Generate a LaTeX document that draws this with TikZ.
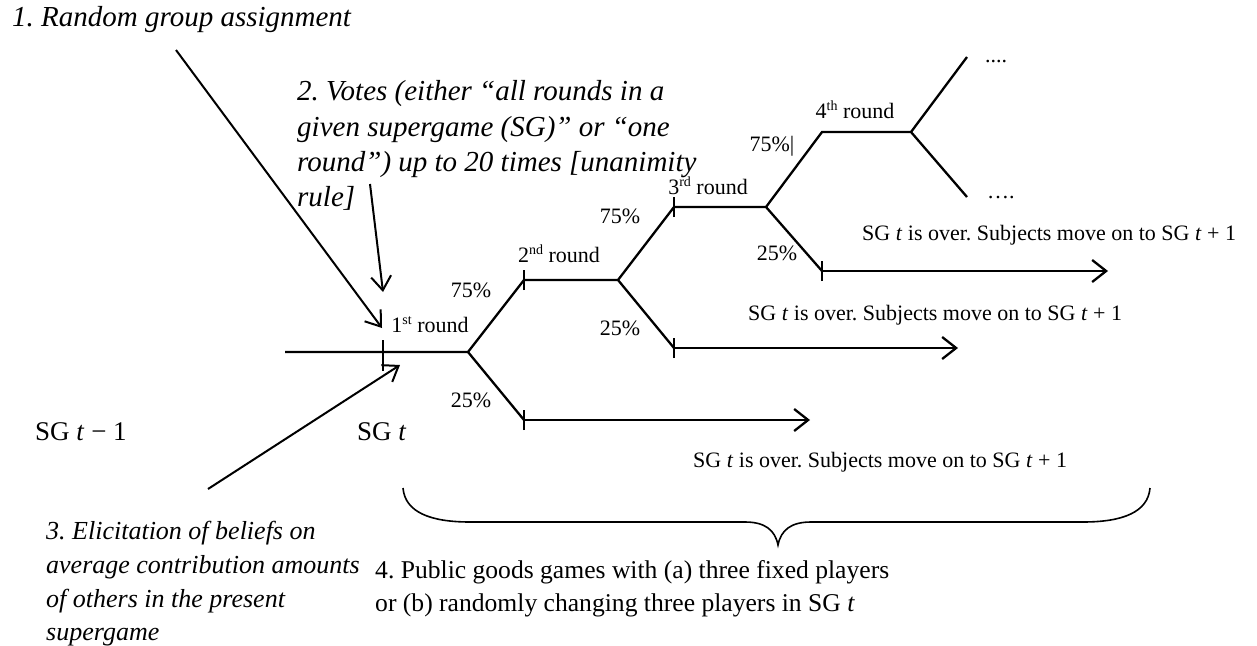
\documentclass[tikz,border=0pt]{standalone}
\usepackage{fontspec}
\setmainfont{Liberation Serif}
\usetikzlibrary{arrows.meta}
\frenchspacing
\newcommand{\supx}[1]{\raisebox{0.36em}{\fontsize{14}{14}\selectfont #1}}
\begin{document}
\begin{tikzpicture}[x=1pt,y=-1pt,
  edge/.style={line width=2.3pt},
  arr/.style={line width=2.3pt,-{Straight Barb[length=14pt,width=22pt,line width=2.3pt]}},
  ann/.style={line width=2pt,-{Straight Barb[length=14pt,width=20pt,line width=2pt]}},
  tickmark/.style={line width=1.6pt},
  brace/.style={line width=1.6pt},
  lbl/.style={inner sep=0pt,anchor=base,font=\fontsize{22}{26}\selectfont},
  lblw/.style={inner sep=0pt,anchor=base west,font=\fontsize{22}{26}\selectfont},
  big/.style={inner sep=0pt,anchor=base west,font=\fontsize{27}{32}\selectfont},
  note/.style={inner sep=0pt,anchor=base west,font=\fontsize{29}{35}\selectfont\itshape},
  notes/.style={inner sep=0pt,anchor=base west,font=\fontsize{26}{32}\selectfont\itshape},
  four/.style={inner sep=0pt,anchor=base west,font=\fontsize{25.6}{32}\selectfont},
]
\useasboundingbox (0,0) rectangle (1257,645);

% tree coordinates
\coordinate (s0) at (285,352);
\coordinate (r1) at (383,352);
\coordinate (b1) at (468,352);
\coordinate (r2) at (524,280);
\coordinate (e1) at (524,420);
\coordinate (a1) at (810,420);
\coordinate (b2) at (618,280);
\coordinate (r3) at (674,207);
\coordinate (e2) at (674,348);
\coordinate (a2) at (958,348);
\coordinate (b3) at (766,207);
\coordinate (r4) at (822,132);
\coordinate (e3) at (822,271);
\coordinate (a3) at (1108,271);
\coordinate (b4) at (911,132);
\coordinate (u4) at (967,57);
\coordinate (d4) at (967,197);

\draw[edge] (s0) -- (b1) -- (r2) -- (b2) -- (r3) -- (b3) -- (r4) -- (b4) -- (u4);
\draw[edge] (b4) -- (d4);
\draw[edge] (b1) -- (e1);
\draw[edge] (b2) -- (e2);
\draw[edge] (b3) -- (e3);
\draw[arr] (e1) -- (a1);
\draw[arr] (e2) -- (a2);
\draw[arr] (e3) -- (a3);

% ticks
\draw[tickmark] ([yshift=-19pt]r1) -- ([yshift=12pt]r1);
\foreach \p in {r2,r3,e1,e2,e3}{
  \draw[tickmark] ([yshift=-10pt]\p) -- ([yshift=10pt]\p);
}

% labels
\node[lbl] (l1) at (430,332) {1\supx{st} round};
\node[lbl] (p1u) at (471,297) {75\%};
\node[lbl] (p1d) at (471,407) {25\%};
\node[lbl] (l2) at (559,262) {2\supx{nd} round};
\node[lbl] (p2u) at (620,223) {75\%};
\node[lbl] (p2d) at (620,335) {25\%};
\node[lbl] (l3) at (708,194) {3\supx{rd} round};
\node[lbl] (p3u) at (772,151) {75\%|};
\node[lbl] (p3d) at (777,260) {25\%};
\node[lbl] (l4) at (855,118) {4\supx{th} round};
\node[lblw] (du) at (985,62) {....};
\node[lblw] (dd) at (987,198) {….};

\node[lblw] (o3) at (862,240) {SG \textit{t} is over. Subjects move on to SG \textit{t} + 1};
\node[lblw] (o2) at (748,320) {SG \textit{t} is over. Subjects move on to SG \textit{t} + 1};
\node[lblw] (o1) at (693,467) {SG \textit{t} is over. Subjects move on to SG \textit{t} + 1};

\node[big] (sgprev) at (35,440) {SG \textit{t} − 1};
\node[big] (sgt) at (357,440) {SG \textit{t}};

% annotations
\node[note] (n1) at (12,26) {1. Random group assignment};
\node[note] (n2a) at (297,100) {2. Votes (either “all rounds in a};
\node[note] (n2b) at (297,136) {given supergame (SG)” or “one};
\node[note] (n2c) at (297,171) {round”) up to 20 times [unanimity};
\node[note] (n2d) at (297,206) {rule]};

\node[notes] (n3a) at (46,539) {3. Elicitation of beliefs on};
\node[notes] (n3b) at (46,573) {average contribution amounts};
\node[notes] (n3c) at (46,607) {of others in the present};
\node[notes] (n3d) at (46,640) {supergame};

\node[four] (n4a) at (375,578) {4. Public goods games with (a) three fixed players};
\node[four] (n4b) at (375,611) {or (b) randomly changing three players in SG \textit{t}};

% annotation arrows
\coordinate (q1s) at (176,50);
\coordinate (q1e) at (382,328);
\coordinate (q2s) at (370,184);
\coordinate (q2e) at (383,292);
\coordinate (q3s) at (208,489);
\coordinate (q3e) at (400,365);
\draw[ann] (q1s) -- (q1e);
\draw[ann] (q2s) -- (q2e);
\draw[ann] (q3s) -- (q3e);

% brace
\coordinate (bl) at (403,488);
\coordinate (bt) at (778,545);
\coordinate (br) at (1150,488);
\draw[brace] (bl) .. controls (405,512) and (430,522) .. (470,522) -- (745,522)
  .. controls (765,522) and (775,530) .. (bt)
  .. controls (781,530) and (791,522) .. (811,522) -- (1083,522)
  .. controls (1123,522) and (1148,512) .. (br);
\end{tikzpicture}
\end{document}
